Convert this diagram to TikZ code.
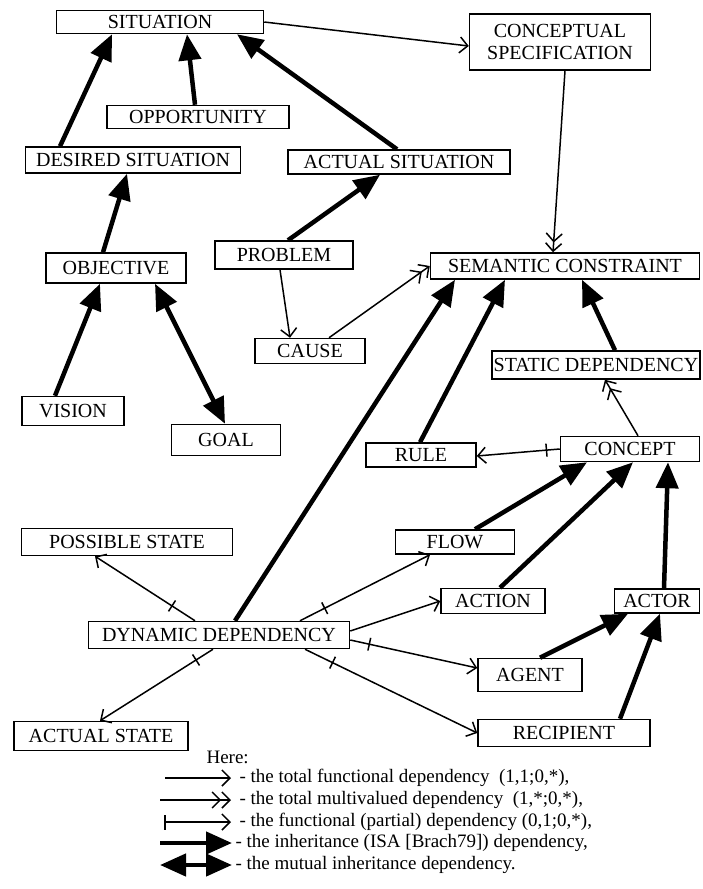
\documentclass[tikz,border=0pt]{standalone}
\usepackage{fontspec}
\setmainfont{Liberation Serif}
\usetikzlibrary{arrows.meta}

\begin{document}
\begin{tikzpicture}[x=1pt, y=-1pt, font=\fontsize{20}{22}\selectfont,
  box/.style={draw, line width=1.5pt, inner sep=1pt, align=center},
  fdep/.style={line width=1.5pt, -{Straight Barb[length=8pt, width=16pt]}},
  mdep/.style={line width=1.5pt, -{Straight Barb[length=8pt, width=16pt] Straight Barb[length=8pt, width=16pt]}},
  tick/.style={draw, sloped, line width=1.5pt, inner sep=0pt, minimum width=0pt, minimum height=13pt},
  isa/.style={line width=4.5pt, -{Triangle[length=26pt, width=22pt]}},
  misa/.style={line width=4.5pt, {Triangle[length=26pt, width=22pt]}-{Triangle[length=26pt, width=22pt]}},
  legend/.style={anchor=west, font=\fontsize{19}{21}\selectfont}]
  \useasboundingbox (0,0) rectangle (702,889);

  % boxes
  \node[box, minimum width=207pt, minimum height=23pt] (sit)    at (160,22)  {SITUATION};
  \node[box, minimum width=181pt, minimum height=56pt] (cspec)  at (560,42)  {CONCEPTUAL\\SPECIFICATION};
  \node[box, minimum width=182pt, minimum height=23pt] (opp)    at (198,117) {OPPORTUNITY};
  \node[box, minimum width=215pt, minimum height=26pt] (des)    at (133,160) {DESIRED SITUATION};
  \node[box, minimum width=222pt, minimum height=24pt] (act)    at (399,162) {ACTUAL SITUATION};
  \node[box, minimum width=140pt, minimum height=30pt] (obj)    at (116,268) {OBJECTIVE};
  \node[box, minimum width=138pt, minimum height=28pt] (prob)   at (284,255) {PROBLEM};
  \node[box, minimum width=269pt, minimum height=26pt] (sem)    at (565,266) {SEMANTIC CONSTRAINT};
  \node[box, minimum width=110pt, minimum height=25pt] (cause)  at (310,351) {CAUSE};
  \node[box, minimum width=208pt, minimum height=28pt] (stat)   at (596,365) {STATIC DEPENDENCY};
  \node[box, minimum width=102pt, minimum height=29pt] (vis)    at (73,411)  {VISION};
  \node[box, minimum width=109pt, minimum height=31pt] (goal)   at (226,440) {GOAL};
  \node[box, minimum width=110pt, minimum height=24pt] (rule)   at (421,455) {RULE};
  \node[box, minimum width=139pt, minimum height=25pt] (conc)   at (630,449) {CONCEPT};
  \node[box, minimum width=211pt, minimum height=27pt] (poss)   at (127,542) {POSSIBLE STATE};
  \node[box, minimum width=119pt, minimum height=24pt] (flow)   at (455,542) {FLOW};
  \node[box, minimum width=104pt, minimum height=25pt] (action) at (493,601) {ACTION};
  \node[box, minimum width=85pt,  minimum height=24pt] (actor)  at (657,601) {ACTOR};
  \node[box, minimum width=261pt, minimum height=27pt] (dyn)    at (219,635) {DYNAMIC DEPENDENCY};
  \node[box, minimum width=104pt, minimum height=33pt] (agent)  at (530,675) {AGENT};
  \node[box, minimum width=174pt, minimum height=29pt] (astate) at (101,736) {ACTUAL STATE};
  \node[box, minimum width=172pt, minimum height=27pt] (recip)  at (564,733) {RECIPIENT};

  % inheritance
  \draw[isa] ([xshift=-73pt]des.north) -- ([xshift=-48pt]sit.south);
  \draw[isa] ([xshift=-3pt]opp.north) -- ([xshift=27pt]sit.south);
  \draw[isa] ([xshift=-2pt]act.north) -- ([xshift=77pt]sit.south);
  \draw[isa] ([xshift=-13pt]obj.north) -- ([xshift=-6pt]des.south);
  \draw[isa] ([xshift=4pt]prob.north) -- ([xshift=-19pt]act.south);
  \draw[isa] ([xshift=-18pt]vis.north) -- ([xshift=-16pt]obj.south);
  \draw[misa] ([xshift=39pt]obj.south) -- ([xshift=-1pt]goal.north);
  \draw[isa] ([xshift=16pt]dyn.north) -- ([xshift=-110pt]sem.south);
  \draw[isa] ([xshift=-1pt]rule.north) -- ([xshift=-60pt]sem.south);
  \draw[isa] ([xshift=19pt]stat.north) -- ([xshift=17pt]sem.south);
  \draw[isa] ([xshift=20pt]flow.north) -- ([xshift=-43pt]conc.south);
  \draw[isa] ([xshift=7pt]action.north) -- ([xshift=3pt]conc.south);
  \draw[isa] ([xshift=7pt]actor.north) -- ([xshift=38pt]conc.south);
  \draw[isa] ([xshift=10pt]agent.north) -- ([xshift=-29pt]actor.south);
  \draw[isa] ([xshift=56pt]recip.north) -- ([xshift=3pt]actor.south);

  % dependencies
  \draw[fdep] (sit.east) -- ([yshift=-4pt]cspec.west);
  \draw[mdep] ([xshift=5pt]cspec.south) -- ([xshift=-12pt]sem.north);
  \draw[fdep] ([xshift=-4pt]prob.south) -- ([xshift=-20pt]cause.north);
  \draw[mdep] ([xshift=19pt]cause.north) -- (sem.west);
  \draw[mdep] ([xshift=8pt]conc.north) -- ([xshift=9pt]stat.south);
  \draw[fdep] (conc.west) -- node[tick, pos=0.16] {} ([yshift=-1pt]rule.east);
  \draw[fdep] ([xshift=-24pt]dyn.north) -- node[tick, pos=0.23] {} ([xshift=-32pt]poss.south);
  \draw[fdep] ([xshift=-6pt]dyn.south) -- node[tick, pos=0.15] {} ([xshift=-1pt]astate.north);
  \draw[fdep] ([xshift=81pt]dyn.north) -- node[tick, pos=0.19] {} ([xshift=-25pt]flow.south);
  \draw[fdep] ([yshift=4pt]dyn.east) -- (action.west);
  \draw[fdep] ([yshift=-5pt]dyn.east) -- node[tick, pos=0.15] {} ([yshift=7pt]agent.west);
  \draw[fdep] ([xshift=86pt]dyn.south) -- node[tick, pos=0.16] {} (recip.west);

  % legend
  \node[legend] (here) at (203,757) {Here:};
  \coordinate (fa) at (165,778); \coordinate (fb) at (231,778);
  \coordinate (ma) at (160,800); \coordinate (mb) at (231,800);
  \coordinate (pa) at (164,822); \coordinate (pb) at (231,822);
  \coordinate (ia) at (160,843); \coordinate (ib) at (232,843);
  \coordinate (ua) at (160,865); \coordinate (ub) at (232,865);
  \draw[fdep] (fa) -- (fb);
  \draw[mdep] (ma) -- (mb);
  \draw[fdep, {Bar[width=15pt]}-{Straight Barb[length=8pt, width=16pt]}] (pa) -- (pb);
  \draw[isa] (ia) -- (ib);
  \draw[misa] (ua) -- (ub);
  \node[legend] (lf) at (236,778) {- the total functional dependency\enspace(1,1;0,*),};
  \node[legend] (lm) at (236,800) {- the total multivalued dependency\enspace(1,*;0,*),};
  \node[legend] (lp) at (236,822) {- the functional (partial) dependency (0,1;0,*),};
  \node[legend] (li) at (232,843) {- the inheritance (ISA [Brach79]) dependency,};
  \node[legend] (lu) at (232,865) {- the mutual inheritance dependency.};
\end{tikzpicture}
\end{document}
